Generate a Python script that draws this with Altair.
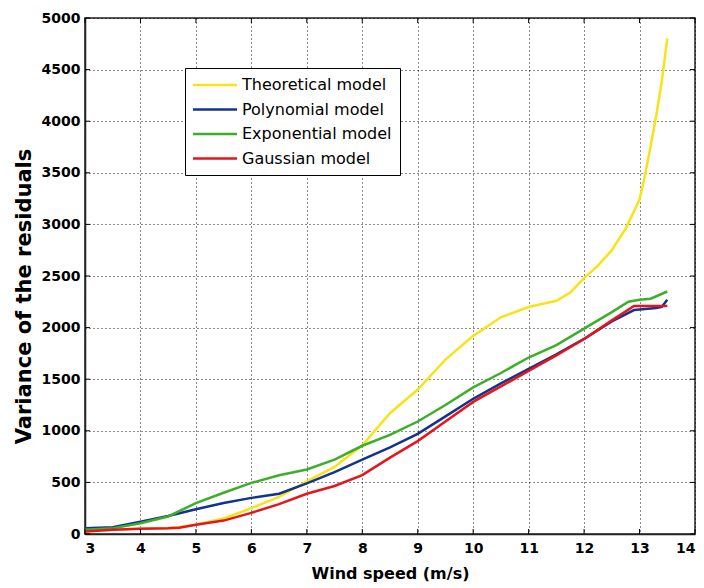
import altair as alt
import pandas as pd

series_names = ["Theoretical model", "Polynomial model", "Exponential model", "Gaussian model"]
series_colors = ["#f7e318", "#14338c", "#3cae2a", "#e8141c"]

theo_x = [3, 3.5, 4, 4.5, 5, 5.5, 6, 6.5, 7, 7.5, 8, 8.5, 9, 9.5, 10, 10.5, 11, 11.5, 11.75, 12, 12.25, 12.5, 12.75, 13, 13.1, 13.2, 13.3, 13.4, 13.5]
theo_v = [25, 40, 50, 55, 90, 150, 250, 360, 510, 650, 860, 1170, 1400, 1690, 1920, 2100, 2200, 2260, 2340, 2480, 2600, 2750, 2960, 3240, 3480, 3760, 4050, 4380, 4800]

poly_x = [3, 3.5, 4, 4.5, 5, 5.5, 6, 6.5, 7, 7.5, 8, 8.5, 9, 9.5, 10, 10.5, 11, 11.5, 12, 12.5, 12.9, 13.1, 13.3, 13.4, 13.5]
poly_v = [55, 65, 120, 175, 240, 300, 350, 390, 490, 600, 720, 840, 970, 1140, 1310, 1460, 1600, 1740, 1890, 2060, 2170, 2180, 2190, 2200, 2270]

expo_x = [3, 3.5, 4, 4.5, 5, 5.5, 6, 6.5, 7, 7.5, 8, 8.5, 9, 9.5, 10, 10.5, 11, 11.5, 12, 12.5, 12.8, 13, 13.2, 13.5]
expo_v = [40, 55, 105, 170, 300, 400, 495, 570, 625, 720, 855, 960, 1090, 1250, 1420, 1560, 1710, 1830, 1990, 2150, 2250, 2270, 2280, 2350]

gaus_x = [3, 3.5, 4, 4.5, 4.7, 5, 5.5, 6, 6.5, 7, 7.5, 8, 8.5, 9, 9.5, 10, 10.5, 11, 11.5, 12, 12.5, 12.9, 13.2, 13.5]
gaus_v = [25, 40, 50, 55, 60, 90, 130, 205, 290, 390, 465, 570, 740, 900, 1090, 1280, 1430, 1580, 1730, 1890, 2070, 2210, 2210, 2210]

x_ticks = [3, 4, 5, 6, 7, 8, 9, 10, 11, 12, 13, 14]
y_ticks = [0, 500, 1000, 1500, 2000, 2500, 3000, 3500, 4000, 4500, 5000]

rows = []
for name, xs, vs in [
    (series_names[0], theo_x, theo_v),
    (series_names[1], poly_x, poly_v),
    (series_names[2], expo_x, expo_v),
    (series_names[3], gaus_x, gaus_v),
]:
    for i, (a, b) in enumerate(zip(xs, vs)):
        rows.append({"model": name, "speed": a, "variance": b, "order": i})
df = pd.DataFrame(rows)

W, H = 610, 516
FONT = "DejaVu Sans"

xscale = alt.Scale(domain=[3, 14], nice=False, zero=False)
yscale = alt.Scale(domain=[0, 5000], nice=False)

xaxis = alt.Axis(values=x_ticks, title="Wind speed (m/s)", format="d",
                 grid=True, ticks=False, labelPadding=7, titlePadding=10,
                 titleFontSize=16)
yaxis = alt.Axis(values=y_ticks, title="Variance of the residuals", format="d",
                 grid=True, ticks=False, labelPadding=5, titlePadding=7,
                 titleFontSize=21, titleY=278)

lines = alt.Chart(df).mark_line(strokeWidth=2.5, clip=True).encode(
    x=alt.X("speed:Q", scale=xscale, axis=xaxis),
    y=alt.Y("variance:Q", scale=yscale, axis=yaxis),
    color=alt.Color("model:N",
                    scale=alt.Scale(domain=series_names, range=series_colors),
                    legend=alt.Legend(title=None, orient="none", legendX=100, legendY=50,
                                      symbolType="M-1.2,0H4.667", symbolSize=225,
                                      symbolStrokeWidth=2.5, labelFontSize=16,
                                      labelFont=FONT, labelColor="black",
                                      strokeColor="black", fillColor="white",
                                      padding=8, rowPadding=7.5, labelOffset=31,
                                      labelLimit=300)),
    order=alt.Order("order:Q"),
    detail="model:N",
)

xt = pd.DataFrame({"speed": x_ticks})
yt = pd.DataFrame({"variance": y_ticks})

tick_b = alt.Chart(xt).mark_rule(color="black", strokeWidth=1).encode(
    x=alt.X("speed:Q", scale=xscale, axis=xaxis), y=alt.value(H), y2=alt.value(H - 5))
tick_t = alt.Chart(xt).mark_rule(color="black", strokeWidth=1).encode(
    x=alt.X("speed:Q", scale=xscale, axis=xaxis), y=alt.value(0), y2=alt.value(5))
tick_l = alt.Chart(yt).mark_rule(color="black", strokeWidth=1).encode(
    y=alt.Y("variance:Q", scale=yscale, axis=yaxis), x=alt.value(0), x2=alt.value(5))
tick_r = alt.Chart(yt).mark_rule(color="black", strokeWidth=1).encode(
    y=alt.Y("variance:Q", scale=yscale, axis=yaxis), x=alt.value(W), x2=alt.value(W - 5))

chart = alt.layer(lines, tick_b, tick_t, tick_l, tick_r).properties(
    width=W, height=H,
    padding={"left": 85, "top": 18, "right": 9, "bottom": 54},
    autosize=alt.AutoSizeParams(type="none"),
    background="white",
).configure_view(
    stroke="#222222", strokeWidth=1.5
).configure_axis(
    gridColor="black", gridDash=[1, 3], gridOpacity=0.9, gridWidth=1,
    domainColor="#222222", domainWidth=1.5,
    labelFont=FONT, labelFontSize=14, labelFontWeight="bold", labelColor="black",
    titleFont=FONT, titleFontWeight="bold", titleColor="black",
)

chart.save("out.html", embed_options={"renderer": "svg", "actions": False})
